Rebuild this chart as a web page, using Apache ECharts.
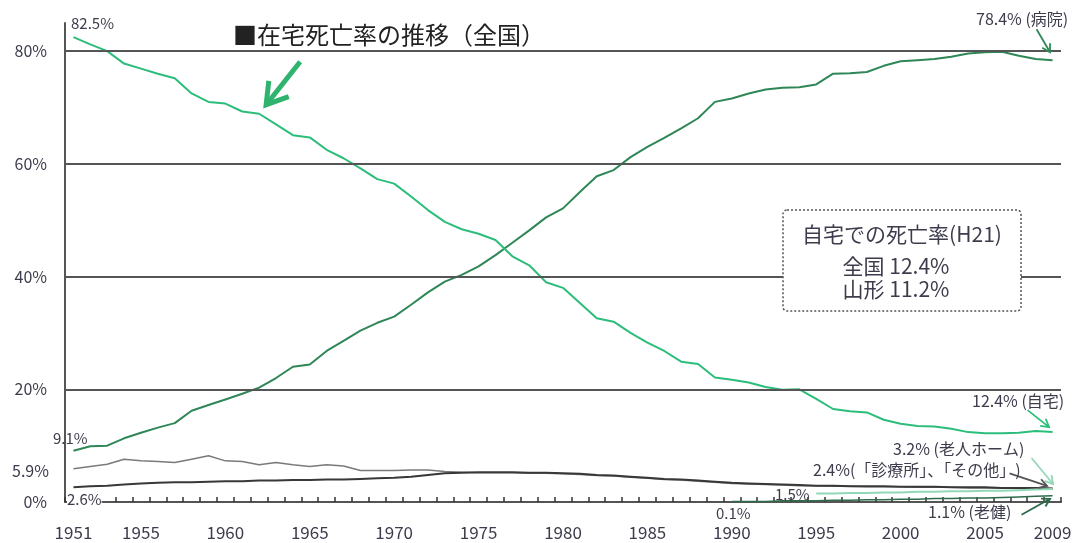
<!DOCTYPE html>
<html><head><meta charset="utf-8">
<script src="https://cdn.jsdelivr.net/npm/echarts@6/dist/echarts.min.js"></script>
<style>html,body{margin:0;padding:0;background:#fff}#c{width:1084px;height:543px}</style>
</head><body><div id="c"></div>
<script>
const years = ['1951','1952','1953','1954','1955','1956','1957','1958','1959','1960',
'1961','1962','1963','1964','1965','1966','1967','1968','1969','1970',
'1971','1972','1973','1974','1975','1976','1977','1978','1979','1980',
'1981','1982','1983','1984','1985','1986','1987','1988','1989','1990',
'1991','1992','1993','1994','1995','1996','1997','1998','1999','2000',
'2001','2002','2003','2004','2005','2006','2007','2008','2009'];
const xLabels = ['1951','1955','1960','1965','1970','1975','1980','1985','1990','1995','2000','2005','2009'];
const yTicks = [0,20,40,60,80];

const home = [82.5,81.2,80.0,77.8,76.9,76.0,75.2,72.5,71.0,70.7,
69.3,68.9,67.0,65.1,64.7,62.5,61.0,59.2,57.3,56.5,
54.2,51.8,49.7,48.4,47.6,46.5,43.6,42.0,39.0,38.0,
35.3,32.6,32.0,30.0,28.3,26.8,24.9,24.5,22.1,21.7,
21.2,20.4,19.9,20.0,18.3,16.5,16.1,15.9,14.6,13.9,
13.5,13.4,13.0,12.4,12.2,12.2,12.3,12.6,12.4];
const hospital = [9.1,9.9,10.0,11.3,12.3,13.2,14.0,16.2,17.2,18.2,
19.2,20.3,22.0,24.0,24.4,26.8,28.6,30.4,31.8,32.9,
35.0,37.2,39.1,40.3,41.8,43.8,46.0,48.2,50.5,52.1,
55.0,57.8,58.9,61.2,63.0,64.6,66.3,68.1,71.0,71.6,
72.5,73.2,73.5,73.6,74.1,76.0,76.1,76.3,77.4,78.2,
78.4,78.6,79.0,79.6,79.8,79.9,79.2,78.6,78.4];
const clinic = [2.6,2.8,2.9,3.1,3.3,3.4,3.5,3.5,3.6,3.7,
3.7,3.8,3.8,3.9,3.9,4.0,4.0,4.1,4.2,4.3,
4.5,4.8,5.1,5.2,5.3,5.3,5.3,5.2,5.2,5.1,
5.0,4.8,4.7,4.5,4.3,4.1,4.0,3.8,3.6,3.4,
3.3,3.2,3.1,3.0,2.9,2.9,2.8,2.8,2.8,2.7,
2.7,2.7,2.6,2.6,2.6,2.5,2.5,2.5,2.4];
const other = [5.9,6.3,6.7,7.6,7.3,7.2,7.0,7.6,8.2,7.3,
7.2,6.6,7.0,6.6,6.3,6.6,6.4,5.6,5.6,5.6,
5.7,5.7,5.4,5.3,5.2,5.2,5.2,5.1,5.1,5.0,
4.9,4.7,4.6,4.4,4.2,4.0,3.9,3.7,3.5,3.3,
3.2,3.1,3.0,2.9,2.9,2.8,2.8,2.7,2.7,2.7,
2.6,2.6,2.6,2.5,2.5,2.5,2.4,2.4,2.4];
const nursingHome = [null,null,null,null,null,null,null,null,null,null,
null,null,null,null,null,null,null,null,null,null,
null,null,null,null,null,null,null,null,null,null,
null,null,null,null,null,null,null,null,null,null,
null,null,null,null,1.5,1.5,1.6,1.6,1.7,1.7,
1.8,1.8,1.9,1.9,2.0,2.0,2.1,2.2,2.3];
const roken = [null,null,null,null,null,null,null,null,null,null,
null,null,null,null,null,null,null,null,null,null,
null,null,null,null,null,null,null,null,null,null,
null,null,null,null,null,null,null,null,null,0.1,
0.1,0.1,0.2,0.2,0.2,0.3,0.3,0.4,0.4,0.5,
0.5,0.6,0.6,0.7,0.7,0.8,0.9,1.0,1.1];

const FONT = '"Noto Sans CJK JP", "Noto Sans", sans-serif';
const TXT = '#3c3c4c';
const C_HOME = '#2dbd7b', C_HOSP = '#2f8757', C_CLINIC = '#383838', C_OTHER = '#7a7a7a', C_NH = '#93d8b6', C_ROKEN = '#2e6b4a';

const chart = echarts.init(document.getElementById('c'));
function line(name, data, color, width, z, extra) {
  return Object.assign({type:'line', name, data, symbol:'none', z, silent:true,
    lineStyle:{color, width}, itemStyle:{color}, connectNulls:false}, extra||{});
}
chart.setOption({
  animation:false,
  textStyle:{fontFamily:FONT},
  grid:{left:65, right:23, top:23, bottom:41},
  xAxis:{type:'category', data:years, boundaryGap:true,
    axisLine:{lineStyle:{color:'#555', width:2}},
    axisTick:{show:true, inside:true, length:5, interval:0, lineStyle:{color:'#333', width:1.5}},
    axisLabel:{interval:(i,v)=>xLabels.includes(v), margin:22, fontSize:17, color:TXT, fontFamily:FONT},
    splitLine:{show:false}},
  yAxis:{type:'value', min:0, max:85, interval:20,
    axisLine:{show:true, lineStyle:{color:'#555', width:2}},
    axisTick:{show:false},
    axisLabel:{formatter:v=>yTicks.includes(v)?v+'%':'', fontSize:16, color:TXT, margin:18, fontFamily:FONT},
    splitLine:{show:false}},
  series:[
    line('その他', other, C_OTHER, 1.5, 2, {markLine:{silent:true, symbol:['none','none'], label:{show:false},
      lineStyle:{color:'#555', width:2, type:'solid'},
      data: yTicks.filter(v=>v>0).map(v=>({yAxis:v}))}}),
    line('診療所', clinic, C_CLINIC, 2, 2),
    line('老人ホーム', nursingHome, C_NH, 2, 2),
    line('老健', roken, C_ROKEN, 1.5, 2),
    line('病院', hospital, C_HOSP, 2, 3),
    line('自宅', home, C_HOME, 2, 3)
  ]
});

function px(i, v){ return chart.convertToPixel({xAxisIndex:0, yAxisIndex:0}, [i, v]); }
function arrow(tail, tip, color, width, head, ang){
  const dx = tail[0]-tip[0], dy = tail[1]-tip[1], L = Math.hypot(dx,dy);
  const ux = dx/L, uy = dy/L, a = ang*Math.PI/180;
  const w1 = [tip[0]+head*(ux*Math.cos(a)-uy*Math.sin(a)), tip[1]+head*(ux*Math.sin(a)+uy*Math.cos(a))];
  const w2 = [tip[0]+head*(ux*Math.cos(-a)-uy*Math.sin(-a)), tip[1]+head*(ux*Math.sin(-a)+uy*Math.cos(-a))];
  return [
    {type:'polyline', z:110, silent:true, shape:{points:[tail, tip]}, style:{stroke:color, lineWidth:width, fill:null}},
    {type:'polyline', z:110, silent:true, shape:{points:[w1, tip, w2]}, style:{stroke:color, lineWidth:width, fill:null, lineJoin:'miter'}}
  ];
}
function txt(text, x, y, size, opt){
  return Object.assign({type:'text', z:120, silent:true, x, y,
    style:Object.assign({text, fontSize:size, fontFamily:FONT, fill:TXT, verticalAlign:'middle', align:'left'}, opt||{})});
}
const last = years.length-1;
const pHome = px(last, home[last]);
const pHosp = px(last, hospital[last]);
const pNH = px(last, nursingHome[last]);
const pClin = px(last, clinic[last]);
const pRoken = px(last, roken[last]);
const p62 = px(11, home[11]);
const off = (p, dx, dy) => [p[0]+dx, p[1]+dy];

const g = [];
g.push({type:'rect', z:100, silent:true, shape:{x:783, y:210, width:238, height:101, r:4},
  style:{fill:'#fff', stroke:'#555', lineWidth:1.5, lineDash:[2,2]}});
g.push(txt('自宅での死亡率(H21)', 902, 234, 21, {align:'center'}));
g.push(txt('全国 12.4%', 896, 266, 21, {align:'center'}));
g.push(txt('山形 11.2%', 896, 289, 21, {align:'center'}));
g.push(txt('■在宅死亡率の推移（全国）', 233, 35, 24, {fill:'#222'}));
g.push(txt('82.5%', 71, 23, 15));
g.push(txt('78.4% (病院)', 976, 19, 16));
g.push(txt('12.4% (自宅)', 972, 401, 16));
g.push(txt('9.1%', 53, 438, 15));
g.push(txt('5.9%', 12, 471, 16));
g.push(txt('2.6%', 67, 499, 15, {backgroundColor:'#fff'}));
g.push(txt('3.2% (老人ホーム)', 893, 449, 16));
g.push(txt('2.4%(「診療所」、「その他」)', 813, 470, 16));
g.push(txt('1.5%', 775, 494, 15));
g.push(txt('0.1%', 716, 513, 15));
g.push(txt('1.1% (老健)', 928, 512, 16));
g.push(...arrow(off(p62, 41, -52), off(p62, 7, -9), '#2fb36e', 5, 24, 32));
g.push(...arrow(off(pHosp, -16, -31), off(pHosp, -2.5, -8), C_HOSP, 1.8, 9, 30));
g.push(...arrow(off(pHome, -25, -22), off(pHome, -3.5, -5), C_HOME, 1.8, 9, 30));
g.push(...arrow(off(pNH, -21, -31), off(pNH, 0.5, -5), C_NH, 1.8, 9, 30));
g.push(...arrow(off(pClin, -43, -15), off(pClin, -5.5, -2.5), '#555', 1.8, 9, 30));
g.push(...arrow(off(pRoken, -31, 19), off(pRoken, -2.5, 3), C_ROKEN, 1.8, 9, 30));
chart.setOption({graphic:{elements:g}});
</script></body></html>
